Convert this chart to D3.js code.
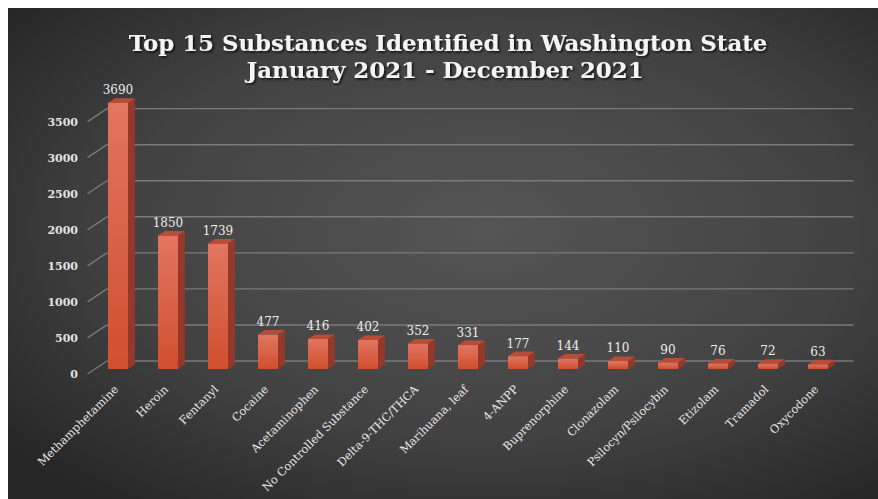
<!DOCTYPE html>
<html>
<head>
<meta charset="utf-8">
<script src="https://cdn.jsdelivr.net/npm/d3@7"></script>
<style>
  html, body { margin: 0; padding: 0; background: #ffffff; }
  svg { display: block; }
</style>
</head>
<body>
<div id="chart"></div>
<script>
const titleLines = ["Top 15 Substances Identified in Washington State", "January 2021 - December 2021"];
const categories = ["Methamphetamine", "Heroin", "Fentanyl", "Cocaine", "Acetaminophen",
  "No Controlled Substance", "Delta-9-THC/THCA", "Marihuana, leaf", "4-ANPP", "Buprenorphine",
  "Clonazolam", "Psilocyn/Psilocybin", "Etizolam", "Tramadol", "Oxycodone"];
const values = [3690, 1850, 1739, 477, 416, 402, 352, 331, 177, 144, 110, 90, 76, 72, 63];
const yTicks = [0, 500, 1000, 1500, 2000, 2500, 3000, 3500];

const W = 878, H = 499;
const svg = d3.select("#chart").append("svg").attr("width", W).attr("height", H);
const defs = svg.append("defs");

const bg = defs.append("radialGradient").attr("id", "bg")
  .attr("cx", "55%").attr("cy", "45%").attr("r", "70%");
bg.append("stop").attr("offset", "0%").attr("stop-color", "#555555");
bg.append("stop").attr("offset", "60%").attr("stop-color", "#424242");
bg.append("stop").attr("offset", "100%").attr("stop-color", "#272727");

const fg = defs.append("linearGradient").attr("id", "front")
  .attr("x1", 0).attr("y1", 0).attr("x2", 0).attr("y2", 1);
fg.append("stop").attr("offset", "0%").attr("stop-color", "#e27561");
fg.append("stop").attr("offset", "100%").attr("stop-color", "#d04f2e");

const sh = defs.append("filter").attr("id", "shadow").attr("x", "-10%").attr("y", "-30%").attr("width", "120%").attr("height", "160%");
sh.append("feDropShadow").attr("dx", 1.5).attr("dy", 1.5).attr("stdDeviation", 1.2)
  .attr("flood-color", "#000").attr("flood-opacity", 0.8);

svg.append("rect").attr("x", 8).attr("y", 8).attr("width", W - 8).attr("height", H - 8)
  .attr("fill", "url(#bg)");

// title
const title = svg.append("g").attr("filter", "url(#shadow)");
const t1 = title.append("text").attr("x", 448).attr("y", 51).attr("text-anchor", "middle")
  .attr("font-family", "'DejaVu Serif', serif").attr("font-weight", "bold")
  .attr("font-size", 24).attr("fill", "#f4f4f4").text(titleLines[0]);
const w1 = t1.node().getComputedTextLength();
const fs = 24 * 639 / w1;
t1.attr("font-size", fs);
title.append("text").attr("x", 445).attr("y", 78).attr("text-anchor", "middle")
  .attr("font-family", "'DejaVu Serif', serif").attr("font-weight", "bold")
  .attr("font-size", fs).attr("fill", "#f4f4f4").text(titleLines[1]);

// 3D geometry
const DX = 19.5, DY = -13;
const wallLeft = 87.5, wallRight = 834;
const f1 = 0.385, f2 = 0.74;

const x = d3.scaleBand().domain(categories).range([85.5, 835.5])
  .paddingInner(0.6).paddingOuter(0.3);
const y = d3.scaleLinear().domain([0, 3500]).range([374, 374 - 252.35]);

const grid = svg.append("g");
yTicks.forEach(t => {
  grid.append("line")
    .attr("x1", wallLeft + DX).attr("x2", wallRight + DX)
    .attr("y1", y(t) + DY).attr("y2", y(t) + DY)
    .attr("stroke", "#7a7a7a").attr("stroke-width", 1.4);
  grid.append("line")
    .attr("x1", wallLeft).attr("y1", y(t))
    .attr("x2", wallLeft + DX).attr("y2", y(t) + DY)
    .attr("stroke", "#7a7a7a").attr("stroke-width", 1.4);
});

svg.append("g").selectAll("text").data(yTicks).join("text")
  .attr("x", 78).attr("y", d => y(d)).attr("dy", "0.35em")
  .attr("text-anchor", "end")
  .attr("font-family", "'DejaVu Serif', serif").attr("font-weight", "bold")
  .attr("font-size", 11).attr("fill", "#e2e2e2")
  .text(d => d);

// bars
const bw = x.bandwidth();
const ddx = (f2 - f1) * DX, ddy = (f2 - f1) * DY;
const bars = svg.append("g");
categories.forEach((c, i) => {
  const v = values[i];
  const x0 = x(c) + f1 * DX, x1 = x0 + bw;
  const yT = y(v) + f1 * DY, yB = y(0) + f1 * DY;
  const g = bars.append("g");
  g.append("polygon")
    .attr("points", [[x1, yT], [x1 + ddx, yT + ddy], [x1 + ddx, yB + ddy], [x1, yB]].map(p => p.join(",")).join(" "))
    .attr("fill", "#94392a");
  g.append("polygon")
    .attr("points", [[x0, yT], [x1, yT], [x1 + ddx, yT + ddy], [x0 + ddx, yT + ddy]].map(p => p.join(",")).join(" "))
    .attr("fill", "#b84c36");
  g.append("rect").attr("x", x0).attr("y", yT).attr("width", bw).attr("height", yB - yT)
    .attr("fill", "url(#front)");
  g.append("text")
    .attr("x", x0 + bw / 2).attr("y", y(v) + f2 * DY - 4)
    .attr("text-anchor", "middle")
    .attr("font-family", "'DejaVu Serif', serif")
    .attr("font-size", 12).attr("fill", "#ececec")
    .text(v);
});

// category labels
svg.append("g").selectAll("text").data(categories).join("text")
  .attr("transform", d => `translate(${x(d) + f1 * DX + bw / 2 + 1},${390}) rotate(-45)`)
  .attr("text-anchor", "end")
  .attr("font-family", "'DejaVu Serif', serif")
  .attr("font-size", 11.3).attr("fill", "#e6e6e6")
  .text(d => d);
</script>
</body>
</html>
